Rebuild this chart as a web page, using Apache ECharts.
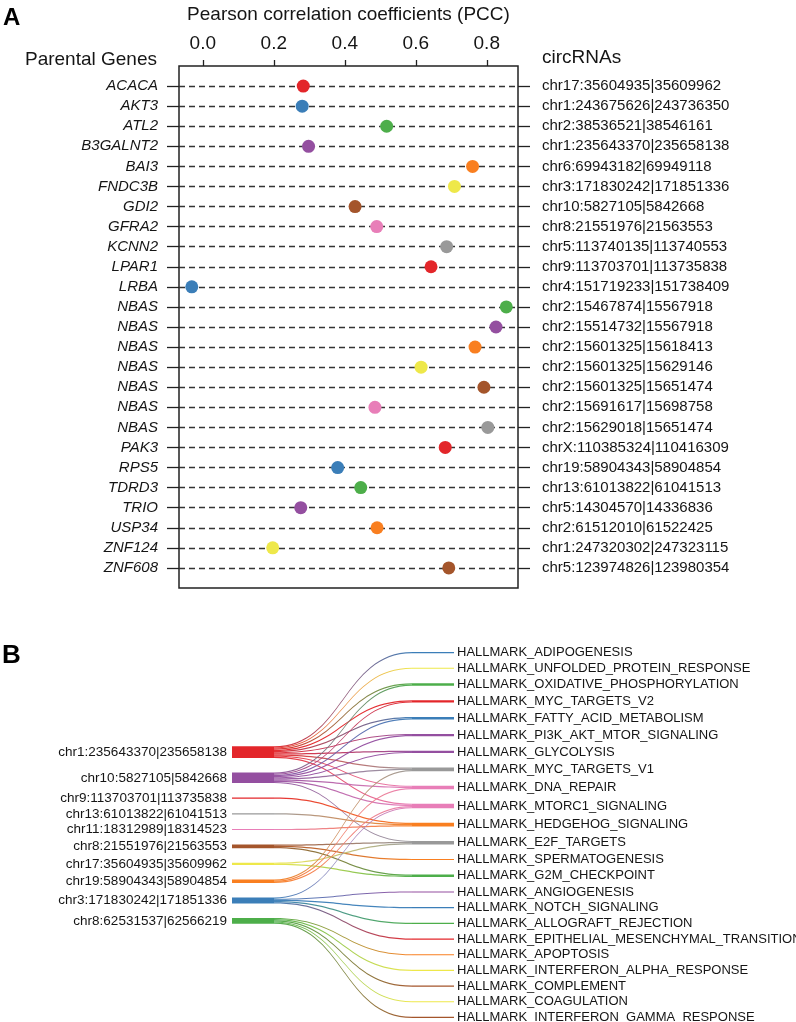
<!DOCTYPE html>
<html><head><meta charset="utf-8">
<script src="https://cdn.jsdelivr.net/npm/echarts@6/dist/echarts.min.js"></script>
<style>html,body{margin:0;padding:0;background:#fff}#c{width:796px;height:1022px}</style>
</head><body><div id="c"></div><script>
// ---------- Panel A data ----------
const genes = ['ACACA','AKT3','ATL2','B3GALNT2','BAI3','FNDC3B','GDI2','GFRA2','KCNN2','LPAR1','LRBA',
  'NBAS','NBAS','NBAS','NBAS','NBAS','NBAS','NBAS','PAK3','RPS5','TDRD3','TRIO','USP34','ZNF124','ZNF608'];
const circRNAs = ['chr17:35604935|35609962','chr1:243675626|243736350','chr2:38536521|38546161',
  'chr1:235643370|235658138','chr6:69943182|69949118','chr3:171830242|171851336','chr10:5827105|5842668',
  'chr8:21551976|21563553','chr5:113740135|113740553','chr9:113703701|113735838','chr4:151719233|151738409',
  'chr2:15467874|15567918','chr2:15514732|15567918','chr2:15601325|15618413','chr2:15601325|15629146',
  'chr2:15601325|15651474','chr2:15691617|15698758','chr2:15629018|15651474','chrX:110385324|110416309',
  'chr19:58904343|58904854','chr13:61013822|61041513','chr5:14304570|14336836','chr2:61512010|61522425',
  'chr1:247320302|247323115','chr5:123974826|123980354'];
const pcc = [0.283,0.280,0.518,0.298,0.760,0.709,0.429,0.490,0.687,0.643,-0.031,
  0.855,0.826,0.767,0.615,0.792,0.485,0.803,0.683,0.380,0.445,0.276,0.491,0.197,0.693];
const pccTicks = [0.0,0.2,0.4,0.6,0.8];

// ---------- Panel B data ----------
const leftNodes = ['chr1:235643370|235658138','chr10:5827105|5842668','chr9:113703701|113735838',
  'chr13:61013822|61041513','chr11:18312989|18314523','chr8:21551976|21563553','chr17:35604935|35609962',
  'chr19:58904343|58904854','chr3:171830242|171851336','chr8:62531537|62566219'];
const rightNodes = ['ADIPOGENESIS','UNFOLDED_PROTEIN_RESPONSE','OXIDATIVE_PHOSPHORYLATION','MYC_TARGETS_V2',
  'FATTY_ACID_METABOLISM','PI3K_AKT_MTOR_SIGNALING','GLYCOLYSIS','MYC_TARGETS_V1','DNA_REPAIR',
  'MTORC1_SIGNALING','HEDGEHOG_SIGNALING','E2F_TARGETS','SPERMATOGENESIS','G2M_CHECKPOINT','ANGIOGENESIS',
  'NOTCH_SIGNALING','ALLOGRAFT_REJECTION','EPITHELIAL_MESENCHYMAL_TRANSITION','APOPTOSIS',
  'INTERFERON_ALPHA_RESPONSE','COMPLEMENT','COAGULATION','INTERFERON_GAMMA_RESPONSE'];
// targets (indices into rightNodes) for each left node
const linkTargets = [
  [0,1,2,3,4,5,6,7,8,9],
  [2,3,4,5,6,7,8,9,11],
  [10],
  [10],
  [10],
  [11,12,13],
  [11,13],
  [7,8,9],
  [9,14,15,16,17],
  [18,19,20,21,22]
];

// ---------- styles ----------
const palette = ['#E3262A','#3B7EB8','#4DAE4A','#944FA0','#F97F20','#EEE84A','#A4552B','#E87EB8','#999999'];
const leftColorIdx = [0,3,0,8,7,6,5,4,1,2];
const rightColorIdx = [1,5,2,0,1,3,3,8,7,7,4,8,4,2,3,1,2,0,4,5,6,5,6];
const FONT = '"Liberation Sans", Arial, Helvetica, sans-serif';
const TXT = '#151515';

// padded category ids so rows sit one band inside the frame
const rowIds = ['__top', ...circRNAs.map((c,i)=>i+':'+c), '__bottom'];
const isRow = (idx) => idx >= 1 && idx <= genes.length;

// sankey geometry
const SK = {left:232, top:652, width:222, height:366, nodeWidth:42, gap:14.5};
const totalVal = linkTargets.reduce((s,t)=>s+t.length,0);
const ky = (SK.height - (rightNodes.length-1)*SK.gap) / totalVal;
const leftH = totalVal*ky + (leftNodes.length-1)*SK.gap;
const spacerVal = ((SK.height - leftH)/2 - SK.gap) / ky;

const nodes = [{name:'__spacer', value:spacerVal, itemStyle:{color:'rgba(0,0,0,0)'}, label:{show:false}}];
leftNodes.forEach((n,i)=>nodes.push({name:n, itemStyle:{color:palette[leftColorIdx[i]]},
  label:{position:'left', distance:5, fontSize:13.5}}));
rightNodes.forEach((n,i)=>nodes.push({name:'HALLMARK_'+n, itemStyle:{color:palette[rightColorIdx[i]]},
  label:{position:'right', distance:3, fontSize:13}}));
const links = [];
linkTargets.forEach((ts,i)=>ts.forEach(t=>links.push({source:leftNodes[i], target:'HALLMARK_'+rightNodes[t], value:1})));

const chart = echarts.init(document.getElementById('c'), null, {renderer:'canvas'});
const tickStyle = {color:'#222', width:1.3};
chart.setOption({
  backgroundColor:'#fff',
  animation:false,
  textStyle:{fontFamily:FONT},
  grid:{left:179, top:66, width:339, height:522, show:true, borderColor:'#222', borderWidth:1.5,
    backgroundColor:'transparent', containLabel:false, outerBoundsMode:'none'},
  xAxis:{type:'value', position:'top', min:-0.067, max:0.888,
    name:'Pearson correlation coefficients (PCC)', nameLocation:'middle', nameGap:42,
    nameTextStyle:{fontSize:19, color:TXT, fontFamily:FONT},
    axisLine:{show:false, onZero:false},
    axisTick:{show:true, customValues:pccTicks, length:6, lineStyle:tickStyle},
    axisLabel:{customValues:pccTicks, formatter:v=>v.toFixed(1), fontSize:19, color:TXT, margin:13, fontFamily:FONT},
    splitLine:{show:false}},
  yAxis:[
    {type:'category', data:rowIds, boundaryGap:false, inverse:true, position:'left',
     axisLine:{show:false, onZero:false},
     axisTick:{show:true, length:12, interval:(i)=>isRow(i), lineStyle:tickStyle},
     axisLabel:{interval:0, formatter:(v,i)=>isRow(i)?genes[i-1]:'', fontStyle:'italic', fontSize:15, color:TXT, margin:21, fontFamily:FONT},
     splitLine:{show:true, interval:(i)=>isRow(i), lineStyle:{type:[6,4], color:'#333', width:1.3}}},
    {type:'category', data:rowIds, boundaryGap:false, inverse:true, position:'right',
     axisLine:{show:false, onZero:false},
     axisTick:{show:true, length:12, interval:(i)=>isRow(i), lineStyle:tickStyle},
     axisLabel:{interval:0, formatter:(v,i)=>isRow(i)?circRNAs[i-1]:'', fontSize:15, color:TXT, margin:24, fontFamily:FONT},
     splitLine:{show:false}}
  ],
  graphic:[
    {type:'text', x:3, y:6, style:{text:'A', fontSize:24, fontWeight:'bold', fill:'#000', fontFamily:FONT}},
    {type:'text', x:157, y:60, style:{text:'Parental Genes', fontSize:19, fill:TXT, align:'right', verticalAlign:'middle', fontFamily:FONT}},
    {type:'text', x:542, y:58, style:{text:'circRNAs', fontSize:19, fill:TXT, align:'left', verticalAlign:'middle', fontFamily:FONT}},
    {type:'text', x:2, y:643, style:{text:'B', fontSize:26, fontWeight:'bold', fill:'#000', fontFamily:FONT}}
  ],
  series:[
    {type:'scatter', xAxisIndex:0, yAxisIndex:0, symbolSize:13, z:5,
     data:pcc.map((v,i)=>({value:[v,i+1], itemStyle:{color:palette[i%9], opacity:1}}))},
    {type:'sankey', left:SK.left, top:SK.top, width:SK.width, height:SK.height,
     nodeWidth:SK.nodeWidth, nodeGap:SK.gap, nodeAlign:'left', layoutIterations:0, draggable:false,
     emphasis:{disabled:true},
     label:{color:TXT, fontFamily:FONT},
     lineStyle:{color:'gradient', curveness:0.5, opacity:0.95},
     itemStyle:{borderWidth:0},
     data:nodes, links:links}
  ]
});
</script></body></html>
